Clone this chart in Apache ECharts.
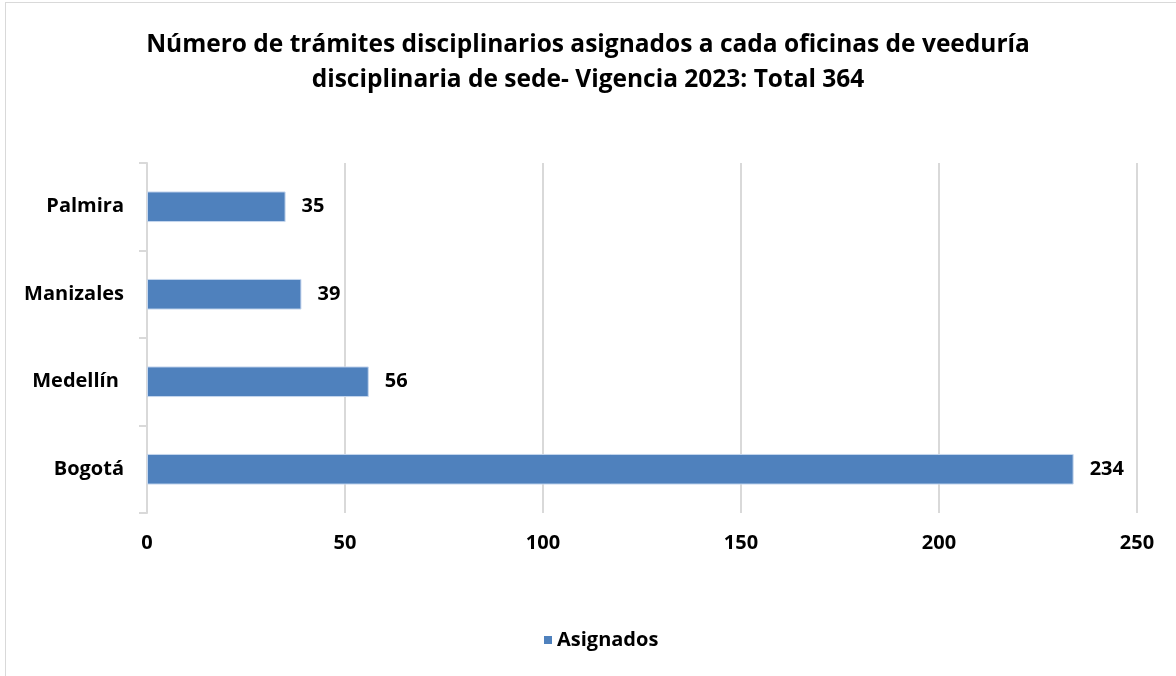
<!DOCTYPE html>
<html>
<head>
<meta charset="utf-8">
<script src="https://cdn.jsdelivr.net/npm/echarts@6/dist/echarts.min.js"></script>
<style>
  html, body { margin: 0; padding: 0; background: #fff; }
  #frame {
    position: absolute; left: 5px; top: 2px; width: 1171px; height: 674px;
    border-left: 1px solid #d9d9d9; border-top: 1px solid #d9d9d9;
  }
  #chart { position: absolute; left: 0; top: 0; width: 1176px; height: 676px; }
</style>
</head>
<body>
<div id="frame"></div>
<div id="chart"></div>
<script>
// categories are listed bottom to top (category axis on y starts at the bottom)
const oficinas = ['Bogotá', 'Medellín ', 'Manizales', 'Palmira'];
const asignados = [234, 56, 39, 35];
const xTicks = [0, 50, 100, 150, 200, 250];

const font = '"Open Sans", "Noto Sans", sans-serif';

const chart = echarts.init(document.getElementById('chart'), null, { renderer: 'canvas' });

chart.setOption({
    backgroundColor: 'transparent',
    animation: false,
    title: {
        text: 'Número de trámites disciplinarios asignados a cada oficinas de veeduría\ndisciplinaria de sede- Vigencia 2023: Total 364',
        left: 'center',
        top: 23,
        textStyle: {
            fontFamily: font,
            fontWeight: 'bold',
            fontSize: 24.5,
            lineHeight: 35,
            color: '#000'
        }
    },
    legend: {
        bottom: 21,
        left: 539,
        icon: 'rect',
        itemWidth: 8,
        itemHeight: 8,
        itemGap: 10,
        itemStyle: { borderWidth: 0 },
        textStyle: { fontFamily: font, fontWeight: 'bold', fontSize: 20, color: '#000' },
        data: ['Asignados']
    },
    grid: { left: 147, right: 39, top: 163, bottom: 163, containLabel: false },
    xAxis: {
        type: 'value',
        min: xTicks[0],
        max: xTicks[xTicks.length - 1],
        interval: xTicks[1] - xTicks[0],
        axisLine: { show: false },
        axisTick: { show: false },
        splitLine: { show: true, lineStyle: { color: '#d9d9d9', width: 2 } },
        axisLabel: {
            margin: 20,
            fontFamily: font, fontWeight: 'bold', fontSize: 20, color: '#000'
        }
    },
    yAxis: {
        type: 'category',
        data: oficinas,
        axisLine: { show: true, lineStyle: { color: '#d9d9d9', width: 2 } },
        axisTick: { show: true, length: 8, lineStyle: { color: '#d9d9d9', width: 2 } },
        axisLabel: {
            margin: 23,
            fontFamily: font, fontWeight: 'bold', fontSize: 20, color: '#000'
        }
    },
    series: [{
        name: 'Asignados',
        type: 'bar',
        data: asignados,
        barWidth: '35%',
        itemStyle: { color: '#4f81bd', borderColor: '#c6d7ee', borderWidth: 1 },
        label: {
            show: true,
            position: 'right',
            distance: 16,
            fontFamily: font, fontWeight: 'bold', fontSize: 20, color: '#000'
        }
    }]
});
</script>
</body>
</html>
